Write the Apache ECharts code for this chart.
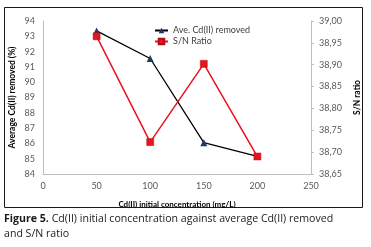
<!DOCTYPE html>
<html>
<head>
<meta charset="utf-8">
<script src="https://cdn.jsdelivr.net/npm/echarts@6/dist/echarts.min.js"></script>
<style>
  html, body { margin: 0; padding: 0; background: #fff; }
  #chart { width: 371px; height: 247px; }
</style>
</head>
<body>
<div id="chart"></div>
<script>
const concentrations = [50, 100, 150, 200];
const avgRemoved = [93.35, 91.55, 86.05, 85.15];
const snRatio = [38.965, 38.723, 38.902, 38.69];

const chart = echarts.init(document.getElementById("chart"));
const font = "Lato";

chart.setOption({
  animation: false,
  textStyle: { fontFamily: font },
  grid: { left: 43, right: 60, top: 21, bottom: 73 },
  legend: {
    left: 149,
    top: 21,
    orient: "vertical",
    itemWidth: 13,
    itemHeight: 7,
    itemGap: 2,
    textStyle: { fontSize: 9, color: "#404040", fontFamily: font },
    data: ["Ave. Cd(II) removed", "S/N Ratio"],
  },
  xAxis: {
    type: "value",
    min: 0,
    max: 250,
    interval: 50,
    name: "Cd(II) initial concentration (mg/L)",
    nameLocation: "middle",
    nameGap: 26,
    nameTextStyle: { fontSize: 8, fontWeight: "bold", color: "#000" },
    axisLine: { lineStyle: { color: "#bfbfbf" } },
    axisTick: { show: false },
    splitLine: { show: false },
    axisLabel: { fontSize: 9, color: "#595959", margin: 8 },
  },
  yAxis: [
    {
      type: "value",
      min: 84,
      max: 94,
      interval: 1,
      name: "Average Cd(II) removed (%)",
      nameLocation: "middle",
      nameRotate: 90,
      nameGap: 26,
      nameMoveOverlap: false,
      nameTextStyle: { fontSize: 8.5, fontWeight: "bold", color: "#000" },
      axisLine: { show: true, lineStyle: { color: "#bfbfbf" } },
      axisTick: { show: false },
      splitLine: { show: false },
      axisLabel: { fontSize: 9, color: "#595959", margin: 8 },
    },
    {
      type: "value",
      min: 38.65,
      max: 39.0,
      interval: 0.05,
      position: "right",
      name: "S/N ratio",
      nameLocation: "middle",
      nameRotate: 90,
      nameGap: 42,
      nameTextStyle: { fontSize: 8.5, fontWeight: "bold", color: "#000" },
      axisLine: { show: true, lineStyle: { color: "#bfbfbf" } },
      axisTick: { show: true, length: 3, lineStyle: { color: "#bfbfbf" } },
      splitLine: { show: false },
      axisLabel: {
        fontSize: 9,
        color: "#595959",
        margin: 8,
        formatter: (v) => v.toFixed(2).replace(".", ","),
      },
    },
  ],
  series: [
    {
      name: "Ave. Cd(II) removed",
      type: "line",
      yAxisIndex: 0,
      data: concentrations.map((c, i) => [c, avgRemoved[i]]),
      symbol: "triangle",
      symbolSize: 7,
      lineStyle: { color: "#000", width: 1.3 },
      itemStyle: { color: "#1f3864" },
      z: 2,
    },
    {
      name: "S/N Ratio",
      type: "line",
      yAxisIndex: 1,
      data: concentrations.map((c, i) => [c, snRatio[i]]),
      symbol: "rect",
      symbolSize: 7,
      lineStyle: { color: "#e8141c", width: 1.5 },
      itemStyle: { color: "#e8141c", borderColor: "#b01018", borderWidth: 0.5 },
      z: 3,
    },
  ],
  graphic: [
    {
      type: "rect",
      shape: { x: 4.5, y: 7.5, width: 358, height: 200 },
      style: { fill: "none", stroke: "#1a1a1a", lineWidth: 1 },
      silent: true,
    },
    {
      type: "text",
      left: 4,
      top: 211,
      style: {
        text: "{b|Figure 5.} Cd(II) initial concentration against average Cd(II) removed\nand S/N ratio",
        fontFamily: "Open Sans",
        fontSize: 10.6,
        lineHeight: 15,
        fill: "#1a1a1a",
        rich: {
          b: { fontWeight: "bold", fontFamily: "Open Sans", fontSize: 10.6, fill: "#1a1a1a" },
        },
      },
    },
  ],
});
</script>
</body>
</html>
